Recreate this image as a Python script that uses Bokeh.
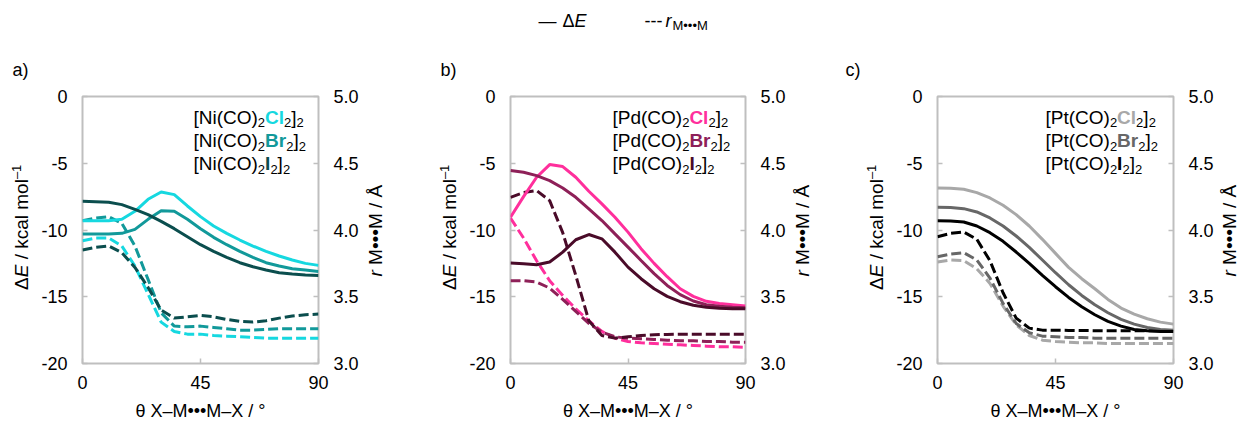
import math
from bokeh.plotting import figure
from bokeh.models import Range1d, LinearAxis, FixedTicker, PrintfTickFormatter, Label
from bokeh.layouts import row, column
from bokeh.embed import file_html
from bokeh.resources import INLINE

# ---------------- data ----------------
theta = [0, 5, 10, 15, 20, 25, 30, 35, 40, 45, 50, 55, 60, 65, 70, 75, 80, 85, 90]

# Ni  (Delta E, kcal/mol)
ni_E_cl = [-9.3, -9.3, -9.3, -9.2, -8.6, -7.7, -7.15, -7.35, -8.2, -9.0, -9.7, -10.25, -10.75, -11.2, -11.6, -11.95, -12.25, -12.5, -12.65]
ni_E_br = [-10.3, -10.3, -10.3, -10.25, -9.95, -9.2, -8.55, -8.6, -9.2, -9.9, -10.55, -11.1, -11.6, -12.05, -12.45, -12.7, -12.9, -13.0, -13.1]
ni_E_i = [-7.85, -7.88, -7.92, -8.1, -8.45, -8.85, -9.35, -9.9, -10.5, -11.1, -11.6, -12.05, -12.45, -12.75, -13.0, -13.2, -13.3, -13.37, -13.4]
# Ni  (r M...M, Angstrom)
ni_r_cl = [3.92, 3.94, 3.94, 3.88, 3.73, 3.52, 3.31, 3.24, 3.22, 3.22, 3.21, 3.205, 3.20, 3.195, 3.19, 3.19, 3.19, 3.19, 3.19]
ni_r_br = [4.07, 4.09, 4.10, 4.05, 3.88, 3.63, 3.38, 3.28, 3.275, 3.28, 3.27, 3.26, 3.25, 3.25, 3.255, 3.26, 3.26, 3.26, 3.26]
ni_r_i = [3.85, 3.87, 3.88, 3.83, 3.72, 3.57, 3.40, 3.34, 3.35, 3.36, 3.35, 3.33, 3.315, 3.31, 3.32, 3.34, 3.355, 3.365, 3.37]

# Pd
pd_E_cl = [-9.04, -7.5, -6.05, -5.1, -5.25, -6.05, -7.1, -8.04, -9.04, -10.16, -11.4, -12.5, -13.5, -14.4, -14.97, -15.34, -15.5, -15.6, -15.7]
pd_E_br = [-5.55, -5.68, -5.93, -6.3, -6.85, -7.55, -8.42, -9.29, -10.29, -11.28, -12.28, -13.27, -14.15, -14.84, -15.32, -15.6, -15.72, -15.79, -15.82]
pd_E_i = [-12.48, -12.53, -12.6, -12.4, -11.66, -10.73, -10.34, -10.66, -11.66, -12.78, -13.65, -14.4, -14.97, -15.37, -15.64, -15.79, -15.87, -15.89, -15.9]
pd_r_cl = [4.09, 3.94, 3.77, 3.62, 3.51, 3.41, 3.32, 3.24, 3.19, 3.165, 3.155, 3.15, 3.145, 3.14, 3.135, 3.13, 3.125, 3.125, 3.12]
pd_r_br = [3.62, 3.62, 3.61, 3.565, 3.48, 3.39, 3.30, 3.235, 3.20, 3.19, 3.185, 3.18, 3.175, 3.17, 3.17, 3.165, 3.165, 3.16, 3.16]
pd_r_i = [4.245, 4.28, 4.295, 4.22, 3.98, 3.66, 3.32, 3.21, 3.19, 3.20, 3.21, 3.215, 3.218, 3.22, 3.22, 3.22, 3.22, 3.22, 3.22]

# Pt
pt_E_cl = [-6.85, -6.87, -6.95, -7.2, -7.6, -8.15, -8.85, -9.7, -10.7, -11.75, -12.8, -13.65, -14.4, -15.2, -15.85, -16.3, -16.65, -16.9, -17.05]
pt_E_br = [-8.3, -8.32, -8.4, -8.65, -9.1, -9.7, -10.45, -11.3, -12.25, -13.2, -14.1, -14.9, -15.6, -16.2, -16.7, -17.05, -17.3, -17.45, -17.5]
pt_E_i = [-9.3, -9.32, -9.4, -9.7, -10.2, -10.85, -11.65, -12.5, -13.4, -14.25, -15.05, -15.75, -16.35, -16.85, -17.2, -17.45, -17.55, -17.6, -17.6]
pt_r_cl = [3.76, 3.775, 3.77, 3.71, 3.60, 3.43, 3.29, 3.21, 3.175, 3.165, 3.16, 3.155, 3.155, 3.15, 3.15, 3.15, 3.15, 3.15, 3.15]
pt_r_br = [3.80, 3.82, 3.83, 3.775, 3.64, 3.45, 3.30, 3.23, 3.205, 3.20, 3.195, 3.195, 3.19, 3.19, 3.19, 3.19, 3.19, 3.19, 3.19]
pt_r_i = [3.95, 3.975, 3.985, 3.93, 3.77, 3.53, 3.34, 3.265, 3.25, 3.25, 3.248, 3.247, 3.246, 3.245, 3.245, 3.245, 3.245, 3.245, 3.245]

x_ticks = [0, 45, 90]
e_ticks = [-20, -15, -10, -5, 0]
r_ticks = [3.0, 3.5, 4.0, 4.5, 5.0]

ni_colors = ["#16d8e0", "#12999a", "#0b4e4e"]
pd_colors = ["#ff2f9c", "#8e2058", "#4a0b29"]
pt_colors = ["#a8a8a8", "#676767", "#000000"]

FONT = "Liberation Sans"
FRAME = "#bfbfbf"
TOP_H = 84          # height of the strip above the panels
PAGE_H = 423
F_TOP, F_BOT = 96, 363   # page y of the plot frames' top and bottom edges
CAP = 0.358         # cap-centre height, in em, above the baseline

# Arial / Liberation Sans advance widths (per 1000 em)
W_REG = {'[': 278, ']': 278, '(': 333, ')': 333, 'N': 722, 'i': 222, 'C': 722, 'O': 778,
         'P': 667, 'd': 556, 't': 278, '2': 556, ' ': 278, '/': 278, 'k': 500, 'c': 500,
         'a': 556, 'l': 222, 'm': 833, 'o': 556, 'M': 833, '\u2022': 350, '\u00c5': 667,
         '\u0394': 668, '\u2014': 1000, '-': 333, '\u2013': 556, '1': 556, 'r': 333, 'E': 667}
W_BOLD = {'C': 722, 'l': 278, 'B': 722, 'r': 389, 'I': 278}


def tw(text, size, bold=False):
    tab = W_BOLD if bold else W_REG
    return sum(tab.get(ch, W_REG.get(ch, 556)) for ch in text) * size / 1000.0


class Canvas:
    """A figure whose texts are placed in page pixel coordinates."""

    def __init__(self, p, g=None):
        self.p = p
        self.g = g   # frame geometry for data panels, None for page-coordinate strips

    def label(self, px, py, text, size, color="black", style="normal", angle=0.0,
              align="left", baseline="middle"):
        if self.g is not None:
            fl, fr, ft, fb = self.g
            x = (px - fl) / (fr - fl) * 90.0
            y = -20.0 + (fb - py) / (fb - ft) * 20.0
        else:
            x, y = px, py
        self.p.add_layout(Label(x=x, y=y, text=text, text_font=FONT, text_font_size=f"{size}px",
                                text_color=color, text_font_style=style, angle=angle,
                                text_align=align, text_baseline=baseline))


def strip(left, width, top, height, b_top, b_bot):
    """Blank figure whose frame maps exactly to page pixel coordinates."""
    p = figure(width=width, height=height,
               x_range=Range1d(left, left + width),
               y_range=Range1d(top + height - b_bot, top + b_top),
               x_axis_type=None, y_axis_type=None, output_backend="svg", toolbar_location=None,
               min_border_left=0, min_border_right=0, min_border_top=b_top,
               min_border_bottom=b_bot, title_location=None)
    p.outline_line_color = None
    p.grid.visible = False
    return Canvas(p)


def split_lead(text, size, bold=False):
    stripped = text.lstrip(" ")
    lead = tw(" " * (len(text) - len(stripped)), size, bold)
    return lead, stripped


def rich_h(cv, x0, base, parts, F=19, S=13, gap=0.0):
    """Horizontal rich text; base = baseline y (page px)."""
    x = x0
    for text, kind, color in parts:
        size = S if kind == "sub" else F
        bold = kind == "bold"
        lead, t = split_lead(text, size, bold)
        x += lead
        if kind == "sub":
            cv.label(x, base + 3.5 - CAP * S, t, S, color)
        elif kind == "italic":
            cv.label(x, base - CAP * F, t, F, color, "italic")
        else:
            cv.label(x, base - CAP * F, t, F, color, "bold" if bold else "normal")
        x += tw(t, size, bold) + gap


def rich_v(cv, bx, y0, parts, F=19, S=13):
    """Vertical text read bottom-to-top; bx = baseline x, y0 = start (bottom), page px."""
    y = y0
    for text, kind in parts:
        size = S if kind == "sup" else F
        lead, t = split_lead(text, size)
        y -= lead
        w = tw(t, size)
        cy = y - w / 2.0
        if kind == "sup":
            cv.label(bx - 7.5 - CAP * S, cy, t, S, angle=math.pi / 2, align="center")
        elif kind == "italic":
            cv.label(bx - CAP * F, cy, t, F, style="italic", angle=math.pi / 2, align="center")
        else:
            cv.label(bx - CAP * F, cy, t, F, angle=math.pi / 2, align="center")
        y -= w


def left_title(cv, bx):
    rich_v(cv, bx, 229.5 + 60,
           [("\u0394", "n"), ("E", "italic"), (" / kcal mol", "n"), ("\u20131", "sup")])


def right_title(cv, bx):
    rich_v(cv, bx, 230 + 46, [("r", "italic"), (" M\u2022\u2022\u2022M / \u00c5", "n")])


def panel(left, width, fl, fr, metal, E, R, colors, legend_x):
    bl = fl - left
    br = left + width - fr
    p = figure(width=width, height=PAGE_H - TOP_H, x_range=Range1d(0, 90), y_range=Range1d(-20, 0),
               output_backend="svg", toolbar_location=None, title_location=None,
               min_border_left=bl, min_border_right=br,
               min_border_top=F_TOP - TOP_H, min_border_bottom=PAGE_H - F_BOT)
    p.extra_y_ranges = {"r": Range1d(3.0, 5.0)}
    raxis = LinearAxis(y_range_name="r")
    p.add_layout(raxis, "right")
    p.grid.visible = False
    p.outline_line_color = FRAME
    p.outline_line_width = 2

    p.xaxis[0].ticker = FixedTicker(ticks=x_ticks)
    p.xaxis[0].formatter = PrintfTickFormatter(format="%d")
    p.yaxis[0].ticker = FixedTicker(ticks=e_ticks)
    p.yaxis[0].formatter = PrintfTickFormatter(format="%d")
    raxis.ticker = FixedTicker(ticks=r_ticks)
    raxis.formatter = PrintfTickFormatter(format="%.1f")
    for ax in [p.xaxis[0], p.yaxis[0], raxis]:
        ax.axis_line_color = None
        ax.major_tick_line_color = FRAME
        ax.major_tick_line_width = 1.5
        ax.major_tick_in = 5
        ax.major_tick_out = 0
        ax.minor_tick_line_color = None
        ax.major_label_text_font = FONT
        ax.major_label_text_font_size = "18px"
        ax.major_label_text_color = "black"
        ax.major_label_standoff = 15
    xa = p.xaxis[0]
    xa.major_label_standoff = 12
    xa.axis_label = "\u03b8 X\u2013M\u2022\u2022\u2022M\u2013X / \u00b0"
    xa.axis_label_text_font = FONT
    xa.axis_label_text_font_size = "18px"
    xa.axis_label_text_font_style = "normal"
    xa.axis_label_text_color = "black"
    xa.axis_label_standoff = 9

    dash = "10 4"
    for r, c in zip(R, colors):
        p.line(theta, r, y_range_name="r", line_color=c, line_width=3, line_dash=dash)
    for e, c in zip(E, colors):
        p.line(theta, e, line_color=c, line_width=3)

    cv = Canvas(p, (fl, fr, F_TOP, F_BOT))
    names = [("Cl", colors[0]), ("Br", colors[1]), ("I", colors[2])]
    for k, (hal, col) in enumerate(names):
        parts = [("[" + metal + "(CO)", "n", "black"), ("2", "sub", "black"),
                 (hal, "bold", col), ("2", "sub", "black"), ("]", "n", "black"),
                 ("2", "sub", "black")]
        rich_h(cv, legend_x, 123.5 + 23.3 * k, parts)
    return p


# ---- top strip: global legend and panel letters ----
top = strip(0, 1241, 0, TOP_H, 0, 0)
rich_h(top, 538, 26.5, [("\u2014", "n", "black")], F=18)
rich_h(top, 562, 26.5, [("\u0394", "n", "black"), ("E", "italic", "black")], F=18)
rich_h(top, 644, 26.5, [("---", "n", "black")], F=18)
rich_h(top, 665, 26.5, [("r", "italic", "black"), ("M\u2022\u2022\u2022M", "sub", "black")],
       F=18, S=13, gap=1.0)
for letter, x in [("a", 12), ("b", 440), ("c", 845)]:
    rich_h(top, x, 76, [(letter + ")", "n", "black")], F=18)

BH = PAGE_H - TOP_H
BT, BB = F_TOP - TOP_H, PAGE_H - F_BOT
# ---- strips holding the axis titles ----
s_la = strip(0, 34, TOP_H, BH, BT, BB)
left_title(s_la, 28)
s_ab = strip(364, 98, TOP_H, BH, BT, BB)
right_title(s_ab, 382)
left_title(s_ab, 456)
s_bc = strip(792, 97, TOP_H, BH, BT, BB)
right_title(s_bc, 809)
left_title(s_bc, 883)
s_rc = strip(1219, 22, TOP_H, BH, BT, BB)
right_title(s_rc, 1236)

pa = panel(34, 330, 82, 318, "Ni", [ni_E_cl, ni_E_br, ni_E_i], [ni_r_cl, ni_r_br, ni_r_i], ni_colors, 193)
pb = panel(462, 330, 510, 745, "Pd", [pd_E_cl, pd_E_br, pd_E_i], [pd_r_cl, pd_r_br, pd_r_i], pd_colors, 612)
pc = panel(889, 330, 937, 1173, "Pt", [pt_E_cl, pt_E_br, pt_E_i], [pt_r_cl, pt_r_br, pt_r_i], pt_colors, 1045)

layout = column(top.p,
                row(s_la.p, pa, s_ab.p, pb, s_bc.p, pc, s_rc.p, spacing=0),
                spacing=0)
open("out.html", "w").write(file_html(layout, INLINE))
